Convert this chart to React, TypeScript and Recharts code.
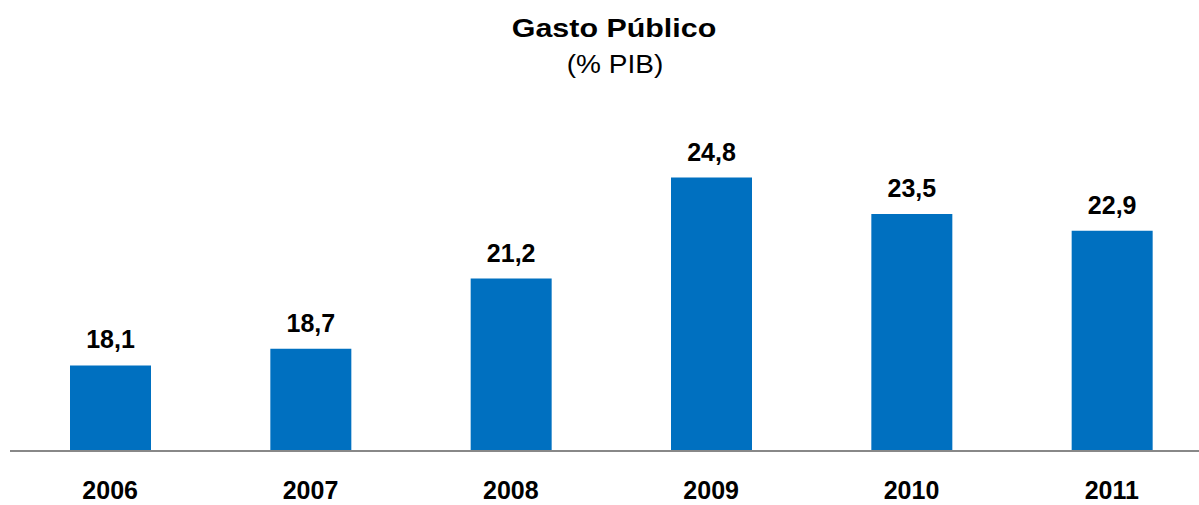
import { BarChart, Bar, XAxis, YAxis, LabelList } from 'recharts'

const years = ['2006', '2007', '2008', '2009', '2010', '2011']
const gasto = [18.1, 18.7, 21.2, 24.8, 23.5, 22.9]

const data = years.map((year, i) => ({ year, gasto: gasto[i] }))

const font = '"Liberation Sans", Arial, sans-serif'

const fmt = (v: any) => Number(v).toFixed(1).replace('.', ',')

function YearTick(props: any) {
    const { x, y, payload } = props
    return (
        <text x={x} y={y} dy={42} textAnchor="middle" fontSize={25} fontWeight="bold" fill="#000" fontFamily={font}>
            {payload.value}
        </text>
    )
}

function ValueLabel(props: any) {
    const { x, y, width, value } = props
    return (
        <text x={x + width / 2} y={y - 17} textAnchor="middle" fontSize={25} fontWeight="bold" fill="#000" fontFamily={font}>
            {fmt(value)}
        </text>
    )
}

export default function App() {
    return (
        <div style={{ position: 'absolute', left: 0, top: 0, width: 1199, height: 505, overflow: 'hidden', background: '#fff' }}>
            <div style={{ position: 'absolute', left: 0, top: 0 }}>
                <BarChart
                    width={1213}
                    height={505}
                    data={data}
                    margin={{ top: 85, right: 1, left: 10, bottom: 0 }}
                    barSize={81}
                >
                    <XAxis
                        dataKey="year"
                        height={54}
                        tickLine={false}
                        axisLine={{ stroke: '#888888', strokeWidth: 2 }}
                        tickMargin={0}
                        tick={<YearTick />}
                    />
                    <YAxis hide domain={[15.05, 28.1]} allowDataOverflow />
                    <Bar dataKey="gasto" fill="#0070C0" isAnimationActive={false}>
                        <LabelList dataKey="gasto" content={<ValueLabel />} />
                    </Bar>
                </BarChart>
            </div>
            <svg width={1199} height={90} style={{ position: 'absolute', left: 0, top: 0 }}>
                <g transform="translate(614,37) scale(1.17,1)">
                    <text x={0} y={0} textAnchor="middle" fontSize={26} fontWeight="bold" fill="#000" fontFamily={font}>
                        Gasto Público
                    </text>
                </g>
                <g transform="translate(615,73) scale(1.12,1)">
                    <text x={0} y={0} textAnchor="middle" fontSize={25} fill="#000" fontFamily={font}>
                        (% PIB)
                    </text>
                </g>
            </svg>
        </div>
    )
}
